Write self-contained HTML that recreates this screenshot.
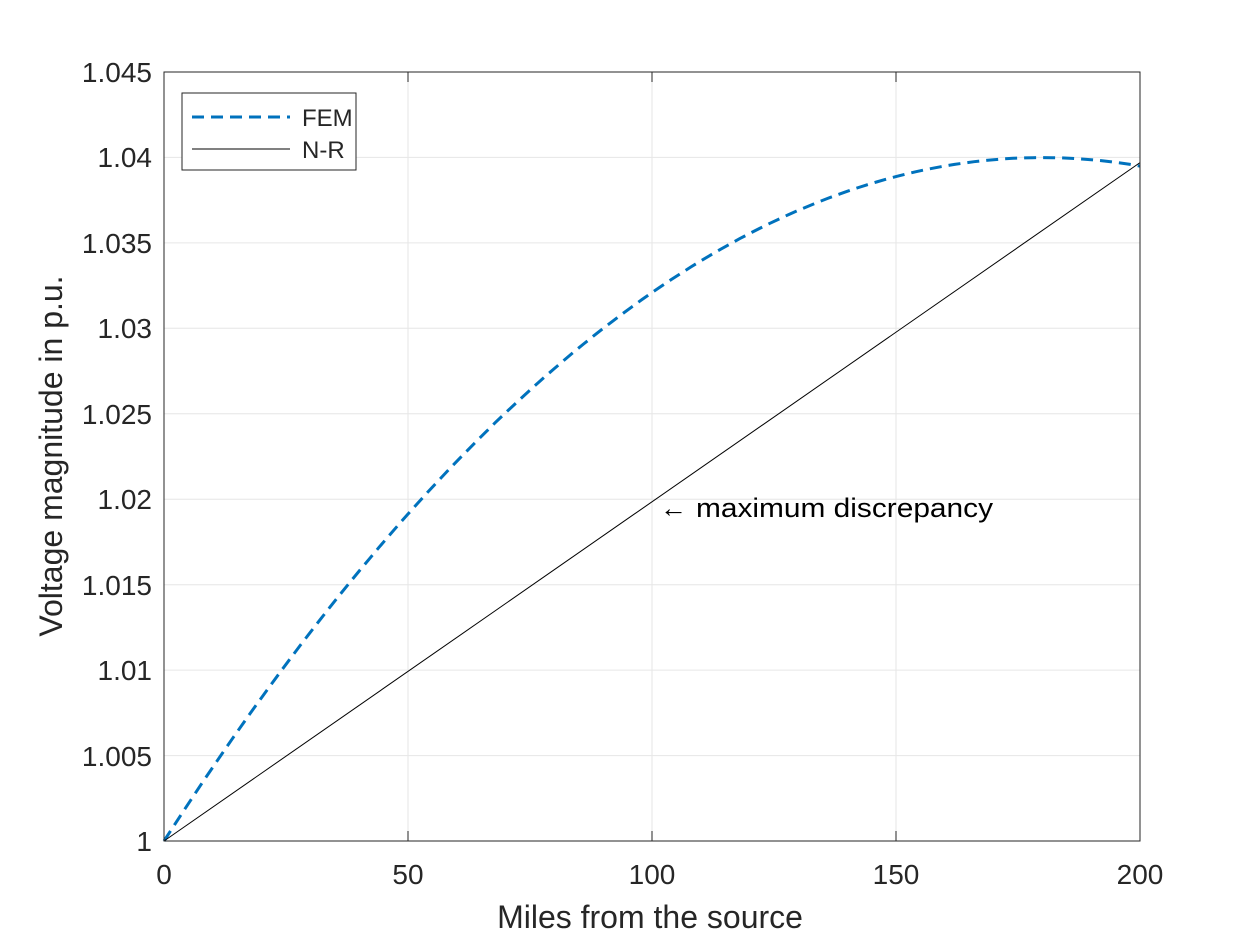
<!DOCTYPE html>
<html><head><meta charset="utf-8"><style>body{margin:0;background:#fff}svg{display:block}text{font-family:"Liberation Sans",Arial,sans-serif;fill:#262626}</style></head><body>
<svg width="1260" height="945" viewBox="0 0 1260 945" xmlns="http://www.w3.org/2000/svg">
<rect width="1260" height="945" fill="#fff"/>
<g stroke="#e6e6e6" stroke-width="1">
<line x1="408" y1="72" x2="408" y2="841"/><line x1="652" y1="72" x2="652" y2="841"/><line x1="896" y1="72" x2="896" y2="841"/>
<line x1="164" y1="157.4" x2="1140" y2="157.4"/><line x1="164" y1="242.9" x2="1140" y2="242.9"/><line x1="164" y1="328.3" x2="1140" y2="328.3"/><line x1="164" y1="413.8" x2="1140" y2="413.8"/><line x1="164" y1="499.2" x2="1140" y2="499.2"/><line x1="164" y1="584.7" x2="1140" y2="584.7"/><line x1="164" y1="670.1" x2="1140" y2="670.1"/><line x1="164" y1="755.6" x2="1140" y2="755.6"/>
</g>
<polyline id="fem" fill="none" stroke="#0072bd" stroke-width="3" stroke-dasharray="12,7" points=""/>
<line x1="164" y1="841" x2="1140" y2="162.6" stroke="#000" stroke-width="1"/>
<rect x="164" y="72" width="976" height="769" fill="none" stroke="#262626" stroke-width="1"/>
<g stroke="#262626" id="ticks">
<line x1="408" y1="841" x2="408" y2="831"/><line x1="652" y1="841" x2="652" y2="831"/><line x1="896" y1="841" x2="896" y2="831"/>
<line x1="408" y1="72" x2="408" y2="82"/><line x1="652" y1="72" x2="652" y2="82"/><line x1="896" y1="72" x2="896" y2="82"/>
</g>
<g font-size="28" text-anchor="middle">
<text x="164" y="884">0</text><text x="408" y="884">50</text><text x="652" y="884">100</text><text x="896" y="884">150</text><text x="1140" y="884">200</text>
</g>
<g font-size="28" text-anchor="end">
<text x="152" y="851">1</text><text x="152" y="766">1.005</text><text x="152" y="680">1.01</text><text x="152" y="595">1.015</text><text x="152" y="509">1.02</text><text x="152" y="424">1.025</text><text x="152" y="338">1.03</text><text x="152" y="253">1.035</text><text x="152" y="167">1.04</text><text x="152" y="82">1.045</text>
</g>
<text x="650" y="928" font-size="32" text-anchor="middle">Miles from the source</text>
<text transform="translate(62,456) rotate(-90)" font-size="32" text-anchor="middle">Voltage magnitude in p.u.</text>
<text x="660" y="517" font-size="27" style="fill:#000">←</text>
<text x="696" y="517" font-size="27" style="fill:#000" textLength="297" lengthAdjust="spacingAndGlyphs">maximum discrepancy</text>
<rect x="182" y="93" width="174" height="77" fill="#fff" stroke="#262626" stroke-width="1"/>
<line x1="192" y1="117" x2="290" y2="117" stroke="#0072bd" stroke-width="3" stroke-dasharray="12,7"/>
<line x1="192" y1="149" x2="290" y2="149" stroke="#000" stroke-width="1"/>
<text x="302" y="126" font-size="24">FEM</text>
<text x="302" y="158" font-size="24">N-R</text>
<script>
var p=[];for(var i=0;i<=200;i+=2){var v=4.444e-4*i-1.2346e-6*i*i;p.push((164+i*4.88).toFixed(1)+","+(841-v*17089).toFixed(1));}
document.getElementById("fem").setAttribute("points",p.join(" "));
var g=document.getElementById("ticks"),s="";
for(var k=1;k<9;k++){var y=(841-k*85.44).toFixed(1);s+='<line x1="164" y1="'+y+'" x2="174" y2="'+y+'"/><line x1="1130" y1="'+y+'" x2="1140" y2="'+y+'"/>';}
g.innerHTML+=s;
</script>
</svg>
</body></html>
